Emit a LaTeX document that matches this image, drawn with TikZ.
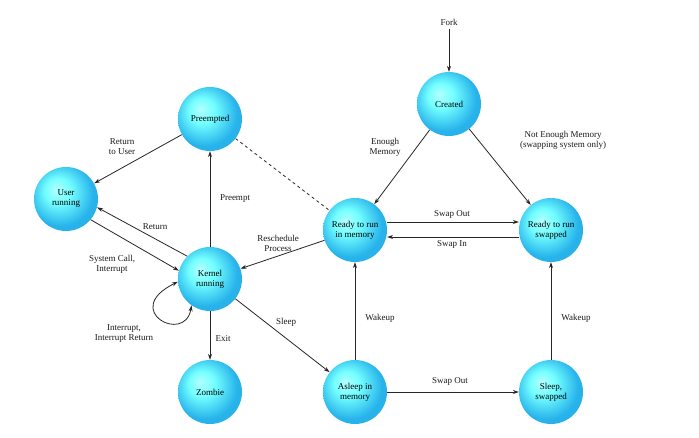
\documentclass[tikz,border=0pt]{standalone}
\usepackage{fontspec}
\setmainfont{Liberation Serif}
\usetikzlibrary{arrows.meta}
\pgfdeclareradialshading{myball}{\pgfpoint{-8bp}{8bp}}{color(0bp)=(white!70!cyan);color(10bp)=(cyan!55!white);color(25bp)=({rgb,255:red,40;green,180;blue,235});color(50bp)=({rgb,255:red,30;green,165;blue,225})}
\begin{document}
\begin{tikzpicture}[x=1pt,y=-1pt,
  st/.style={circle,minimum size=64pt,inner sep=0pt,shading=myball,align=center,font=\fontsize{9}{10}\selectfont,text=black},
  ar/.style={-{Stealth[length=6pt,width=4pt]},thick,black!85},
  lb/.style={font=\fontsize{9}{10}\selectfont,align=center,text=black!90}]
\useasboundingbox (0,0) rectangle (699,438);
\node[st] (pre) at (210,119) {Preempted};
\node[st] (usr) at (66,199) {User\\running};
\node[st] (ker) at (210,279) {Kernel\\running};
\node[st] (zom) at (210,392) {Zombie};
\node[st] (rmem) at (355,230) {Ready to run\\in memory};
\node[st] (asl) at (355,392) {Asleep in\\memory};
\node[st] (cre) at (449,104) {Created};
\node[st] (rsw) at (551,230) {Ready to run\\swapped};
\node[st] (ssw) at (551,392) {Sleep,\\swapped};
\node[lb] (fork) at (449,22) {Fork};
\draw[ar] (fork) -- (cre);
\draw[ar] (cre) -- (rmem);
\draw[ar] (cre) -- (rsw);
\draw[ar] ([yshift=8pt]rmem.east) -- ([yshift=8pt]rsw.west);
\draw[ar] ([yshift=-7pt]rsw.west) -- ([yshift=-7pt]rmem.east);
\draw[ar] (rmem) -- (ker);
\draw[thick,dashed,black!85] (pre) -- (rmem);
\draw[ar] (pre) -- (usr);
\draw[ar] (ker) -- (pre);
\draw[ar] (ker.135) -- (usr.-15);
\draw[ar] (usr.-40) -- (ker.165);
\draw[{Stealth[length=6pt,width=4pt]}-{Stealth[length=6pt,width=4pt]},thick,black!85] (ker.235) .. controls (185,345) and (120,310) .. (ker.185);
\draw[ar] (ker) -- (zom);
\draw[ar] (ker) -- (asl);
\draw[ar] (asl) -- (rmem);
\draw[ar] (asl) -- (ssw);
\draw[ar] (ssw) -- (rsw);
\node[lb] (l1) at (385,147) {Enough\\Memory};
\node[lb] (l2) at (563,140) {Not Enough Memory\\(swapping system only)};
\node[lb] (l3) at (452,214) {Swap Out};
\node[lb] (l4) at (452,244) {Swap In};
\node[lb] (l5) at (278,243) {Reschedule\\Process};
\node[lb] (l6) at (122,147) {Return\\to User};
\node[lb] (l7) at (235,199) {Preempt};
\node[lb] (l8) at (155,227) {Return};
\node[lb] (l9) at (112,264) {System Call,\\Interrupt};
\node[lb] (l10) at (124,334) {Interrupt,\\Interrupt Return};
\node[lb] (l11) at (223,339) {Exit};
\node[lb] (l12) at (286,322) {Sleep};
\node[lb] (l13) at (380,318) {Wakeup};
\node[lb] (l14) at (450,381) {Swap Out};
\node[lb] (l15) at (576,318) {Wakeup};
\end{tikzpicture}
\end{document}
